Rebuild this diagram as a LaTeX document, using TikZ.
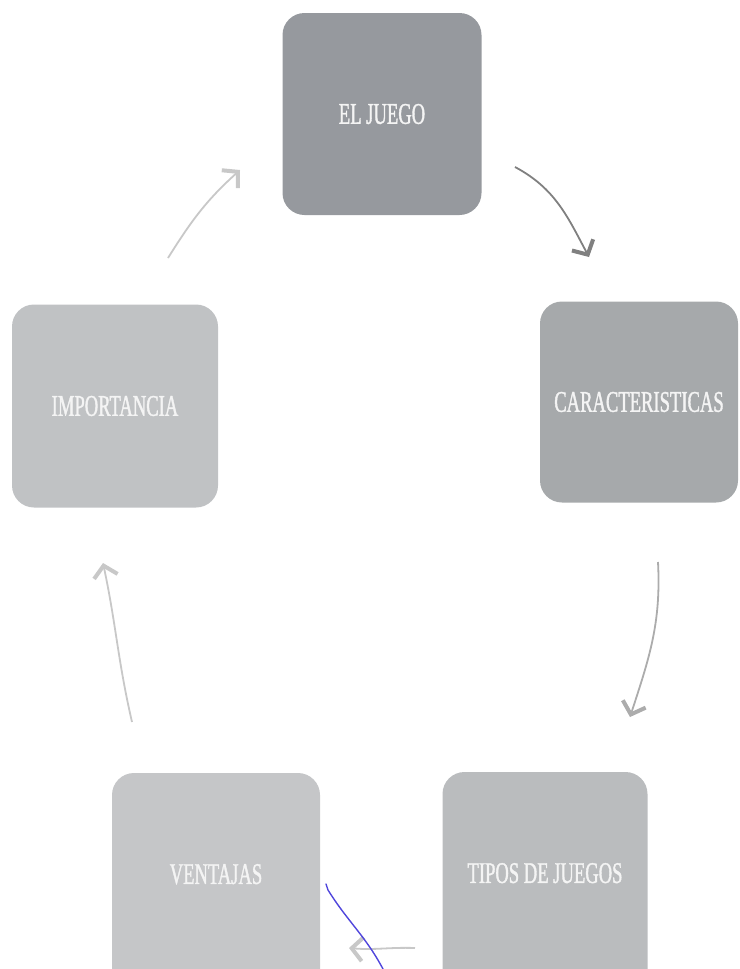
\documentclass[tikz,border=0pt]{standalone}
\usepackage{fontspec}
\usepackage{xcolor}
\usepackage{tikz}
\usetikzlibrary{arrows.meta}
\newfontfamily\boxfont[FakeStretch=0.62,FakeBold=1.2]{Liberation Serif}

\definecolor{juegocol}{RGB}{150,153,158}
\definecolor{caraccol}{RGB}{166,169,171}
\definecolor{importcol}{RGB}{192,194,196}
\definecolor{tiposcol}{RGB}{186,188,190}
\definecolor{ventcol}{RGB}{197,198,200}
\definecolor{boxtext}{RGB}{244,244,244}
\definecolor{penblue}{RGB}{80,70,220}

\begin{document}
\begin{tikzpicture}[x=1pt, y=-1pt,
    every node/.style={rounded corners=22pt, minimum width=205pt, minimum height=202pt,
        text=boxtext, font=\boxfont\fontsize{30}{32}\selectfont, inner sep=0pt},
    cutbox/.style={minimum height=232pt, text depth=30pt},
    cycarrow/.style={line width=1.8pt, -{Straight Barb[length=11pt,width=24pt,line width=4pt]}},
    darkarrow/.style={cycarrow, draw={rgb,255:red,128;green,128;blue,128}},
    midarrow/.style={cycarrow, draw={rgb,255:red,172;green,172;blue,172}},
    lightarrow/.style={cycarrow, draw={rgb,255:red,200;green,200;blue,200}}]

    \useasboundingbox (0,0) rectangle (739,969);
    \clip (0,0) rectangle (739,969);

    % Nodes
    \node[fill=juegocol, minimum width=199pt] (juego) at (382,114) {EL JUEGO};
    \node[fill=caraccol, minimum width=198pt, minimum height=201pt] (carac) at (639,402) {CARACTERISTICAS};
    \node[fill=tiposcol, cutbox] (tipos) at (545,888) {TIPOS DE JUEGOS};
    \node[fill=ventcol, cutbox, minimum width=208pt] (vent) at (216,889) {VENTAJAS};
    \node[fill=importcol, minimum width=206pt, minimum height=203pt] (import) at (115,406) {IMPORTANCIA};

    % Arrow ends
    \coordinate (a1) at (515,167);
    \coordinate (b1) at (589,257);
    \coordinate (a2) at (658,562);
    \coordinate (b2) at (630,717);
    \coordinate (a3) at (415,948);
    \coordinate (b3) at (349,948);
    \coordinate (a4) at (132,722);
    \coordinate (b4) at (103,563);
    \coordinate (a5) at (168,258);
    \coordinate (b5) at (240,170);

    % Edges
    \draw[darkarrow] (a1) to[out=-28, in=118] (b1);
    \draw[midarrow] (a2) to[out=-87, in=72] (b2);
    \draw[lightarrow] (a3) to[out=178, in=-5] (b3);
    \draw[lightarrow] (a4) to[out=103, in=-78] (b4);
    \draw[lightarrow] (a5) to[out=58, in=-138] (b5);

    % Pen stroke
    \coordinate (p1) at (326,884);
    \coordinate (p2) at (383,969);
    \draw[penblue, line width=1.4pt, line cap=round] (p1) -- ++(2,6) to[out=-58, in=118] (p2);
\end{tikzpicture}
\end{document}
